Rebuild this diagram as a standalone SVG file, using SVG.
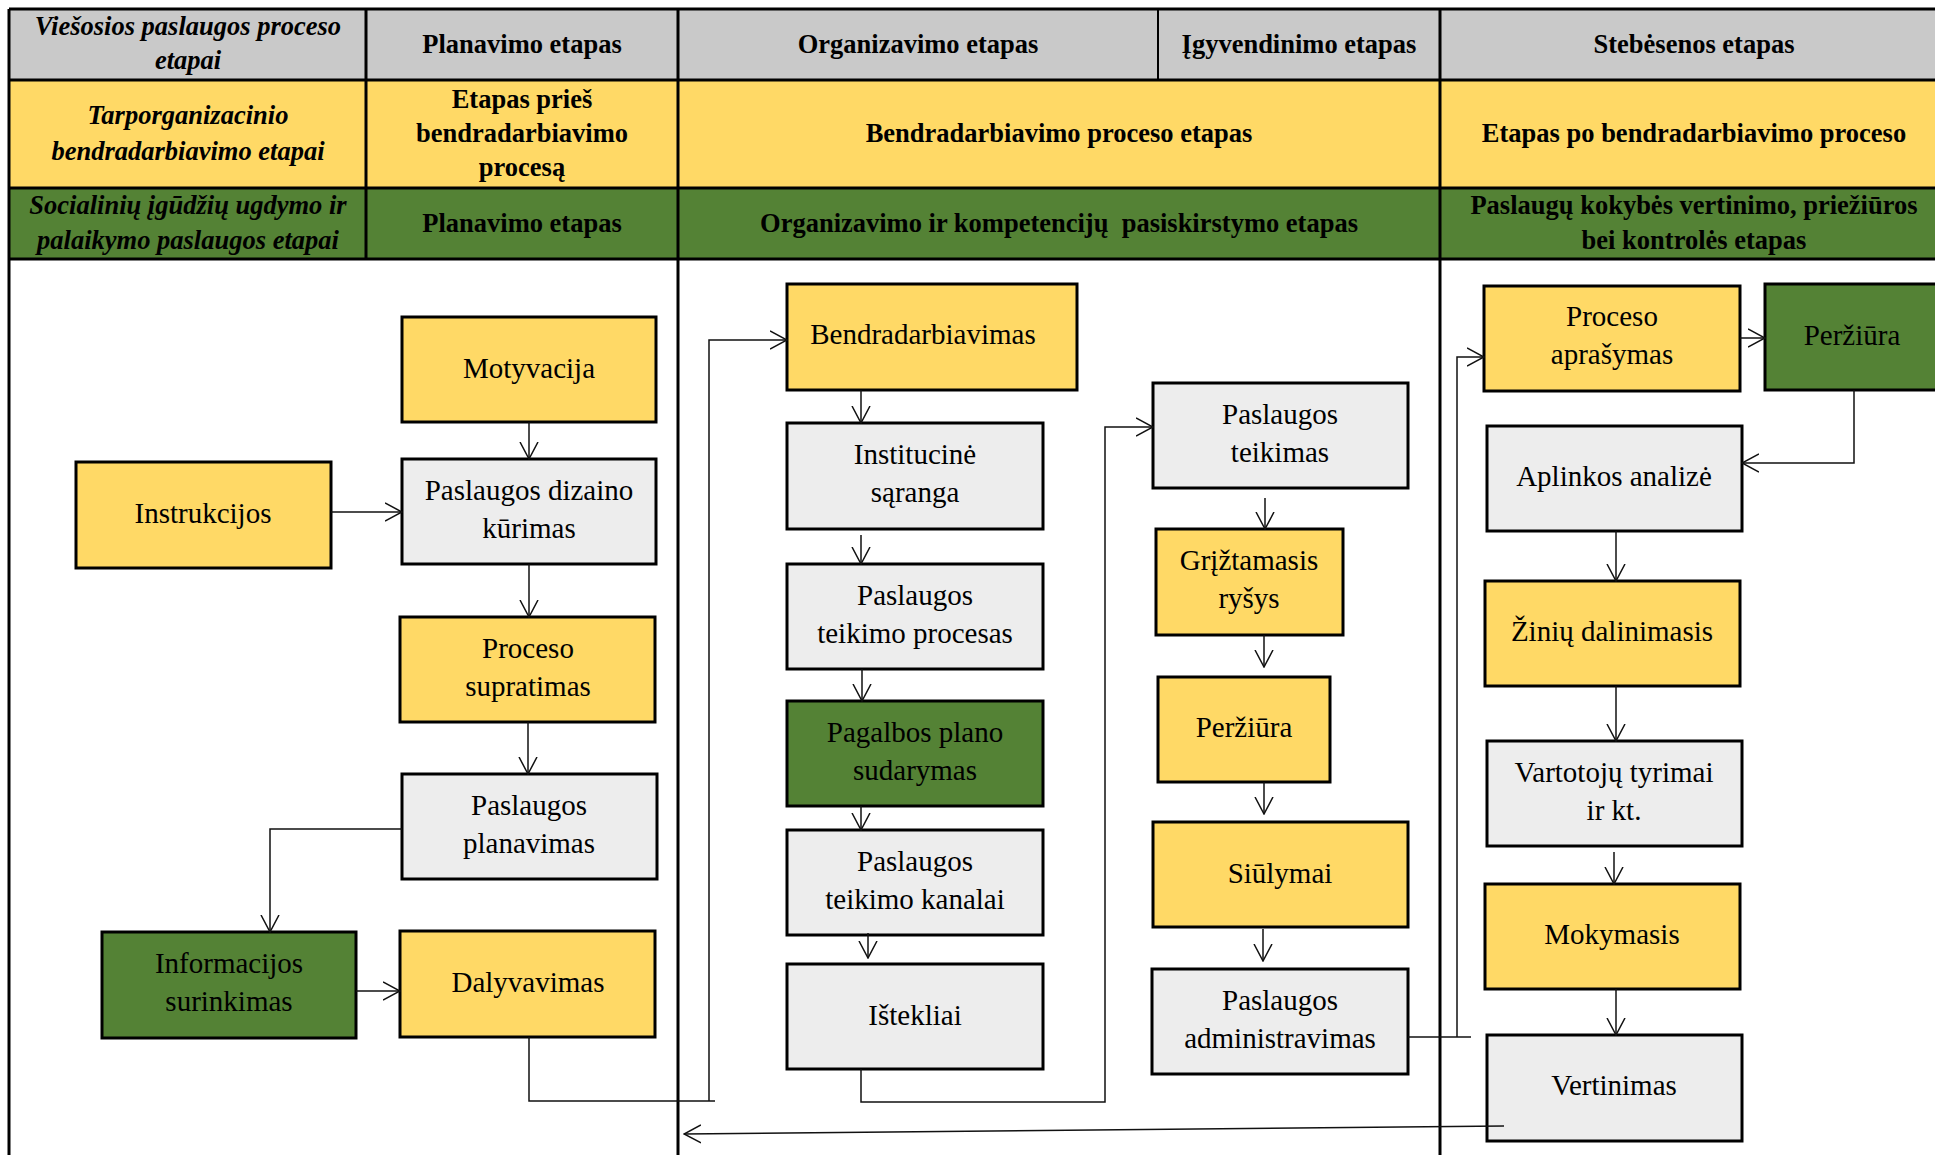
<svg xmlns="http://www.w3.org/2000/svg" width="1935" height="1155" viewBox="0 0 1935 1155">
  <style>
    .hd { font-family: "Liberation Serif", "Times New Roman", serif; font-size: 26.5px; font-weight: bold; fill: #000; text-anchor: middle; }
    .hi { font-style: italic; }
    .gray { fill: #C9C9C9; }
    .yel { fill: #FFD966; }
    .grn { fill: #548235; }
    .node rect { stroke: #000; stroke-width: 3; }
    .node text { font-family: "Liberation Serif", "Times New Roman", serif; font-size: 29px; fill: #000; text-anchor: middle; }
    .n-yel rect { fill: #FFD966; }
    .n-gry rect { fill: #EDEDED; }
    .n-grn rect { fill: #548235; }
    .grid { stroke: #000; stroke-width: 3; fill: none; }
    .conn path { fill: none; stroke: #111; stroke-width: 1.5; }
  </style>
  <defs>
    <marker id="arrow" markerUnits="userSpaceOnUse" markerWidth="18" markerHeight="20" viewBox="0 0 18 20" refX="17" refY="10" orient="auto">
      <path d="M0,1 L17,10 L0,19" fill="none" stroke="#111" stroke-width="1.5"/>
    </marker>
  </defs>

  <rect width="1935" height="1155" fill="#fff"/>

  <!-- Header table -->
  <g id="header">
    <rect class="gray" x="9" y="9" width="1940" height="71"/>
    <rect class="yel" x="9" y="80" width="1940" height="108"/>
    <rect class="grn" x="9" y="188" width="1940" height="71"/>

    <!-- row 1 -->
    <text class="hd hi" x="188" y="35">Viešosios paslaugos proceso</text>
    <text class="hd hi" x="188" y="69">etapai</text>
    <text class="hd" x="522" y="53">Planavimo etapas</text>
    <text class="hd" x="918" y="53">Organizavimo etapas</text>
    <text class="hd" x="1299" y="53">Įgyvendinimo etapas</text>
    <text class="hd" x="1694" y="53">Stebėsenos etapas</text>

    <!-- row 2 -->
    <text class="hd hi" x="188" y="124">Tarporganizacinio</text>
    <text class="hd hi" x="188" y="160">bendradarbiavimo etapai</text>
    <text class="hd" x="522" y="108">Etapas prieš</text>
    <text class="hd" x="522" y="142">bendradarbiavimo</text>
    <text class="hd" x="522" y="176">procesą</text>
    <text class="hd" x="1059" y="142">Bendradarbiavimo proceso etapas</text>
    <text class="hd" x="1694" y="142">Etapas po bendradarbiavimo proceso</text>

    <!-- row 3 -->
    <text class="hd hi" x="188" y="214">Socialinių įgūdžių ugdymo ir</text>
    <text class="hd hi" x="188" y="249">palaikymo paslaugos etapai</text>
    <text class="hd" x="522" y="232">Planavimo etapas</text>
    <text class="hd" x="1059" y="232" xml:space="preserve">Organizavimo ir kompetencijų  pasiskirstymo etapas</text>
    <text class="hd" x="1694" y="214">Paslaugų kokybės vertinimo, priežiūros</text>
    <text class="hd" x="1694" y="249">bei kontrolės etapas</text>

    <!-- grid lines -->
    <path class="grid" d="M9,9 H1940 M9,80 H1940 M9,188 H1940 M9,259 H1940"/>
    <path class="grid" d="M9,9 V1155 M366,9 V259 M678,9 V1155 M1440,9 V1155"/>
    <path d="M1158,9 V80" stroke="#000" stroke-width="2"/>
  </g>

  <!-- Planning column -->
  <g id="motyvacija" class="node n-yel"><rect x="402" y="317" width="254" height="105"/><text x="529" y="378">Motyvacija</text></g>
  <g id="dizainas" class="node n-gry"><rect x="402" y="459" width="254" height="105"/><text x="529" y="500">Paslaugos dizaino</text><text x="529" y="538">kūrimas</text></g>
  <g id="instrukcijos" class="node n-yel"><rect x="76" y="462" width="255" height="106"/><text x="203" y="523">Instrukcijos</text></g>
  <g id="supratimas" class="node n-yel"><rect x="400" y="617" width="255" height="105"/><text x="528" y="658">Proceso</text><text x="528" y="696">supratimas</text></g>
  <g id="planavimas" class="node n-gry"><rect x="402" y="774" width="255" height="105"/><text x="529" y="815">Paslaugos</text><text x="529" y="853">planavimas</text></g>
  <g id="informacija" class="node n-grn"><rect x="102" y="932" width="254" height="106"/><text x="229" y="973">Informacijos</text><text x="229" y="1011">surinkimas</text></g>
  <g id="dalyvavimas" class="node n-yel"><rect x="400" y="931" width="255" height="106"/><text x="528" y="992">Dalyvavimas</text></g>

  <!-- Organising column -->
  <g id="bendradarbiavimas" class="node n-yel"><rect x="787" y="284" width="290" height="106"/><text x="923" y="344">Bendradarbiavimas</text></g>
  <g id="saranga" class="node n-gry"><rect x="787" y="423" width="256" height="106"/><text x="915" y="464">Institucinė</text><text x="915" y="502">sąranga</text></g>
  <g id="procesas" class="node n-gry"><rect x="787" y="564" width="256" height="105"/><text x="915" y="605">Paslaugos</text><text x="915" y="643">teikimo procesas</text></g>
  <g id="pagalbos" class="node n-grn"><rect x="787" y="701" width="256" height="105"/><text x="915" y="742">Pagalbos plano</text><text x="915" y="780">sudarymas</text></g>
  <g id="kanalai" class="node n-gry"><rect x="787" y="830" width="256" height="105"/><text x="915" y="871">Paslaugos</text><text x="915" y="909">teikimo kanalai</text></g>
  <g id="istekliai" class="node n-gry"><rect x="787" y="964" width="256" height="105"/><text x="915" y="1025">Ištekliai</text></g>

  <!-- Implementation column -->
  <g id="teikimas" class="node n-gry"><rect x="1153" y="383" width="255" height="105"/><text x="1280" y="424">Paslaugos</text><text x="1280" y="462">teikimas</text></g>
  <g id="grystamasis" class="node n-yel"><rect x="1156" y="529" width="187" height="106"/><text x="1249" y="570">Grįžtamasis</text><text x="1249" y="608">ryšys</text></g>
  <g id="perziura-1" class="node n-yel"><rect x="1158" y="677" width="172" height="105"/><text x="1244" y="737">Peržiūra</text></g>
  <g id="siulymai" class="node n-yel"><rect x="1153" y="822" width="255" height="105"/><text x="1280" y="883">Siūlymai</text></g>
  <g id="administravimas" class="node n-gry"><rect x="1152" y="969" width="256" height="105"/><text x="1280" y="1010">Paslaugos</text><text x="1280" y="1048">administravimas</text></g>

  <!-- Monitoring column -->
  <g id="aprasymas" class="node n-yel"><rect x="1484" y="286" width="256" height="105"/><text x="1612" y="326">Proceso</text><text x="1612" y="364">aprašymas</text></g>
  <g id="perziura-2" class="node n-grn"><rect x="1765" y="284" width="180" height="106"/><text x="1852" y="345">Peržiūra</text></g>
  <g id="aplinka" class="node n-gry"><rect x="1487" y="426" width="255" height="105"/><text x="1614" y="486">Aplinkos analizė</text></g>
  <g id="ziniu" class="node n-yel"><rect x="1485" y="581" width="255" height="105"/><text x="1612" y="641">Žinių dalinimasis</text></g>
  <g id="vartotoju" class="node n-gry"><rect x="1487" y="741" width="255" height="105"/><text x="1614" y="782">Vartotojų tyrimai</text><text x="1614" y="820">ir kt.</text></g>
  <g id="mokymasis" class="node n-yel"><rect x="1485" y="884" width="255" height="105"/><text x="1612" y="944">Mokymasis</text></g>
  <g id="vertinimas" class="node n-gry"><rect x="1487" y="1035" width="255" height="106"/><text x="1614" y="1095">Vertinimas</text></g>

  <!-- Connectors -->
  <g id="connectors" class="conn">
    <path d="M529,422 V459" marker-end="url(#arrow)"/>
    <path d="M331,512 H402" marker-end="url(#arrow)"/>
    <path d="M529,564 V617" marker-end="url(#arrow)"/>
    <path d="M528,722 V774" marker-end="url(#arrow)"/>
    <path d="M402,829 H270 V932" marker-end="url(#arrow)"/>
    <path d="M356,991 H400" marker-end="url(#arrow)"/>
    <path d="M529,1037 V1101 H715"/>
    <path d="M709,1101 V340 H787" marker-end="url(#arrow)"/>

    <path d="M861,390 V423" marker-end="url(#arrow)"/>
    <path d="M861,535 V564" marker-end="url(#arrow)"/>
    <path d="M862,669 V701" marker-end="url(#arrow)"/>
    <path d="M861,806 V830" marker-end="url(#arrow)"/>
    <path d="M868,933 V958" marker-end="url(#arrow)"/>
    <path d="M861,1069 V1102 H1105 V427 H1153" marker-end="url(#arrow)"/>

    <path d="M1265,498 V529" marker-end="url(#arrow)"/>
    <path d="M1264,635 V667" marker-end="url(#arrow)"/>
    <path d="M1264,782 V814" marker-end="url(#arrow)"/>
    <path d="M1263,929 V961" marker-end="url(#arrow)"/>
    <path d="M1408,1037 H1471"/>
    <path d="M1457,1037 V357 H1484" marker-end="url(#arrow)"/>

    <path d="M1740,338 H1765" marker-end="url(#arrow)"/>
    <path d="M1854,390 V463 H1742" marker-end="url(#arrow)"/>
    <path d="M1616,531 V581" marker-end="url(#arrow)"/>
    <path d="M1616,686 V741" marker-end="url(#arrow)"/>
    <path d="M1614,852 V884" marker-end="url(#arrow)"/>
    <path d="M1616,989 V1035" marker-end="url(#arrow)"/>
    <path d="M1504,1126 L684,1134" marker-end="url(#arrow)"/>
  </g>
</svg>
